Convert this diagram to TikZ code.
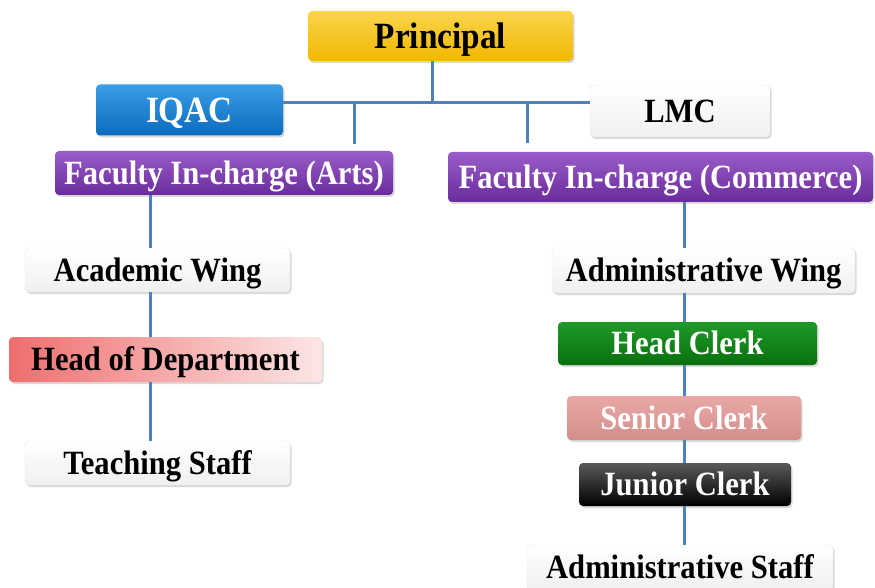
\documentclass[tikz,border=0pt]{standalone}
\usepackage{fontspec}
\newfontfamily\chartfont[FakeStretch=0.9]{Liberation Serif}
\usetikzlibrary{shadows}
\definecolor{linkblue}{HTML}{4F81BD}
\definecolor{goldtop}{HTML}{FAD44C}
\definecolor{goldbot}{HTML}{F2B800}
\definecolor{bluetop}{HTML}{3A9DE6}
\definecolor{bluebot}{HTML}{0B6BBE}
\definecolor{purpletop}{HTML}{9A5CC8}
\definecolor{purplebot}{HTML}{6A2C9C}
\definecolor{greentop}{HTML}{1E9A28}
\definecolor{greenbot}{HTML}{09700F}
\definecolor{rosetop}{HTML}{E8A8A6}
\definecolor{rosebot}{HTML}{D48E8C}
\definecolor{hodleft}{HTML}{EE6E6E}
\definecolor{hodright}{HTML}{FDE6E6}
\tikzset{
  box/.style={rounded corners=4pt, inner sep=0pt, align=center,
    text height=22.4pt, text depth=0pt,
    font=\chartfont\bfseries\fontsize{34}{34}\selectfont,
    drop shadow={shadow xshift=1.5pt, shadow yshift=-2pt, opacity=0.3}},
  bigbox/.style={box, text height=24.4pt,
    font=\chartfont\bfseries\fontsize{37}{37}\selectfont},
  whitebox/.style={box, draw=gray!20, top color=white, bottom color=gray!12},
  link/.style={draw=linkblue, line width=3pt}
}
\begin{document}
\begin{tikzpicture}[x=1pt,y=-1pt]
        \useasboundingbox (0,0) rectangle (875,588);
        %top level
        \node[bigbox, top color=goldtop, bottom color=goldbot, minimum width=265pt, minimum height=50pt] (Principal) at (440.5,36) {Principal};
        \node[bigbox, top color=bluetop, bottom color=bluebot, text=white, minimum width=187pt, minimum height=51pt] (IQAC) at (189.5,110) {IQAC};
        \node[whitebox, minimum width=180pt, minimum height=52pt] (LMC) at (680,111) {LMC};
        %faculty boxes
        \node[box, top color=purpletop, bottom color=purplebot, text=white, minimum width=338pt, minimum height=44pt] (FacArts) at (224,173) {Faculty In-charge (Arts)};
        \node[box, top color=purpletop, bottom color=purplebot, text=white, minimum width=425pt, minimum height=50pt] (FacComm) at (660.5,177) {Faculty In-charge (Commerce)};
        %arts side
        \node[whitebox, minimum width=265pt, minimum height=44pt] (Academic) at (157.5,270) {Academic Wing};
        \node[box, left color=hodleft, right color=hodright, minimum width=313pt, minimum height=45pt] (HoD) at (165.5,359.5) {Head of Department};
        \node[whitebox, minimum width=265pt, minimum height=44pt] (Teaching) at (157.5,463) {Teaching Staff};
        %commerce side
        \node[whitebox, minimum width=303pt, minimum height=45pt] (AdminWing) at (703.5,270.5) {Administrative Wing};
        \node[box, top color=greentop, bottom color=greenbot, text=white, minimum width=259pt, minimum height=43pt] (HeadClerk) at (687.5,343.5) {Head Clerk};
        \node[box, top color=rosetop, bottom color=rosebot, text=white, minimum width=234pt, minimum height=44pt] (SeniorClerk) at (684,418) {Senior Clerk};
        \node[box, top color=gray!70!black, bottom color=black, text=white, minimum width=212pt, minimum height=43pt] (JuniorClerk) at (685,484.5) {Junior Clerk};
        \node[whitebox, minimum width=306pt, minimum height=45pt] (AdminStaff) at (680,567.5) {Administrative Staff};

        %connectors
        \coordinate (hub) at (432,103);
        \coordinate (artsStub) at (354,144);
        \coordinate (commStub) at (527,143);
        \coordinate (leftLine) at (150,0);
        \coordinate (rightLine) at (684,0);
        \draw[link] (Principal.south -| hub) -- (hub);
        \draw[link] (IQAC.east |- hub) -- (LMC.west |- hub);
        \draw[link] (artsStub |- hub) -- (artsStub);
        \draw[link] (commStub |- hub) -- (commStub);
        \draw[link] (FacArts.south -| leftLine) -- (Academic.north -| leftLine);
        \draw[link] (Academic.south -| leftLine) -- (HoD.north -| leftLine);
        \draw[link] (HoD.south -| leftLine) -- (Teaching.north -| leftLine);
        \draw[link] (FacComm.south -| rightLine) -- (AdminWing.north -| rightLine);
        \draw[link] (AdminWing.south -| rightLine) -- (HeadClerk.north -| rightLine);
        \draw[link] (HeadClerk.south -| rightLine) -- (SeniorClerk.north -| rightLine);
        \draw[link] (SeniorClerk.south -| rightLine) -- (JuniorClerk.north -| rightLine);
        \draw[link] (JuniorClerk.south -| rightLine) -- (AdminStaff.north -| rightLine);
\end{tikzpicture}
\end{document}
